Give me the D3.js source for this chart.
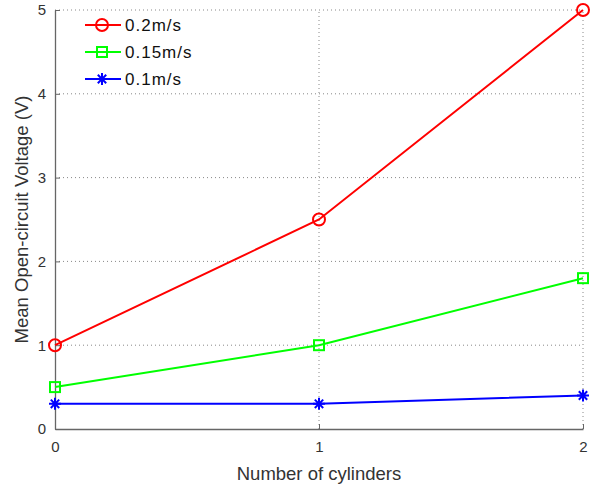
<!DOCTYPE html>
<html>
<head>
<meta charset="utf-8">
<script src="https://cdn.jsdelivr.net/npm/d3@7"></script>
<style>
  body { margin: 0; background: #fff; }
  text { font-family: "Liberation Sans", Arial, sans-serif; }
</style>
</head>
<body>
<div id="chart"></div>
<script>
const cylinders = [0, 1, 2];
const yTicks = [0, 1, 2, 3, 4, 5];
const seriesNames = ['0.2m/s', '0.15m/s', '0.1m/s'];
const seriesColors = ['#ff0000', '#00ff00', '#0000ff'];
const seriesMarkers = ['circle', 'square', 'star'];
const v02 = [1, 2.5, 5];
const v015 = [0.5, 1, 1.8];
const v01 = [0.3, 0.3, 0.4];
const seriesValues = [v02, v015, v01];

const width = 602;
const height = 487;
const margin = { top: 10, right: 19, bottom: 58, left: 55 };

const svg = d3.select('#chart').append('svg')
  .attr('width', width)
  .attr('height', height);

const x = d3.scaleLinear().domain([0, 2]).range([margin.left, width - margin.right]);
const y = d3.scaleLinear().domain([0, 5]).range([height - margin.bottom, margin.top]);

// dotted grid
const grid = svg.append('g');
grid.selectAll('.gy')
  .data(yTicks.filter(d => d > 0))
  .enter().append('line')
  .attr('x1', x(0)).attr('x2', x(2))
  .attr('y1', d => y(d)).attr('y2', d => y(d))
  .style('stroke', '#888').style('stroke-width', 1)
  .style('stroke-dasharray', '1,3');
grid.selectAll('.gx')
  .data(cylinders.filter(d => d > 0))
  .enter().append('line')
  .attr('x1', d => x(d)).attr('x2', d => x(d))
  .attr('y1', y(0)).attr('y2', y(5))
  .style('stroke', '#888').style('stroke-width', 1)
  .style('stroke-dasharray', '1,3');

// axes
const xAxis = svg.append('g')
  .attr('transform', `translate(0,${y(0)})`)
  .call(d3.axisBottom(x).tickValues(cylinders).tickFormat(d3.format('d')).tickSizeInner(-5).tickSizeOuter(0).tickPadding(12));
const yAxis = svg.append('g')
  .attr('transform', `translate(${x(0)},0)`)
  .call(d3.axisLeft(y).tickValues(yTicks).tickFormat(d3.format('d')).tickSizeInner(-5).tickSizeOuter(0).tickPadding(9));

[xAxis, yAxis].forEach(a => {
  a.select('.domain').style('stroke', '#666').style('stroke-width', 1.3);
  a.selectAll('.tick line').style('stroke', '#666');
  a.selectAll('.tick text').style('font-size', '15px').style('fill', '#333');
});

svg.append('text')
  .attr('x', (x(0) + x(2)) / 2)
  .attr('y', 480)
  .attr('text-anchor', 'middle')
  .style('font-size', '18.5px')
  .style('fill', '#333')
  .text('Number of cylinders');

svg.append('text')
  .attr('transform', `translate(28,${(y(0) + y(5)) / 2}) rotate(-90)`)
  .attr('text-anchor', 'middle')
  .style('font-size', '18.5px')
  .style('fill', '#333')
  .text('Mean Open-circuit Voltage (V)');

const line = d3.line()
  .x((d, i) => x(cylinders[i]))
  .y(d => y(d));

function drawMarker(sel, type, color, cx, cy) {
  if (type === 'circle') {
    sel.append('circle').attr('cx', cx).attr('cy', cy).attr('r', 6)
      .style('fill', 'none').style('stroke', color).style('stroke-width', 2);
  } else if (type === 'square') {
    sel.append('rect').attr('x', cx - 5).attr('y', cy - 5).attr('width', 10).attr('height', 10)
      .style('fill', 'none').style('stroke', color).style('stroke-width', 2);
  } else {
    const r = 6;
    const p = `M${cx - r},${cy}L${cx + r},${cy}M${cx},${cy - r}L${cx},${cy + r}` +
      `M${cx - r * 0.7},${cy - r * 0.7}L${cx + r * 0.7},${cy + r * 0.7}` +
      `M${cx - r * 0.7},${cy + r * 0.7}L${cx + r * 0.7},${cy - r * 0.7}`;
    sel.append('path').attr('d', p)
      .style('fill', 'none').style('stroke', color).style('stroke-width', 2);
  }
}

seriesValues.forEach((vals, si) => {
  const g = svg.append('g');
  g.append('path')
    .datum(vals)
    .attr('d', line)
    .style('fill', 'none')
    .style('stroke', seriesColors[si])
    .style('stroke-width', 2);
  vals.forEach((v, i) => drawMarker(g, seriesMarkers[si], seriesColors[si], x(cylinders[i]), y(v)));
});

// legend
const legend = svg.append('g');
seriesNames.forEach((name, i) => {
  const ly = 25 + i * 27;
  legend.append('line')
    .attr('x1', 85).attr('x2', 121)
    .attr('y1', ly).attr('y2', ly)
    .style('stroke', seriesColors[i]).style('stroke-width', 2);
  drawMarker(legend, seriesMarkers[i], seriesColors[i], 102, ly);
  legend.append('text')
    .attr('x', 125)
    .attr('y', ly)
    .attr('dy', '0.36em')
    .style('font-size', '17px')
    .style('letter-spacing', '1px')
    .style('fill', '#111')
    .text(name);
});
</script>
</body>
</html>
